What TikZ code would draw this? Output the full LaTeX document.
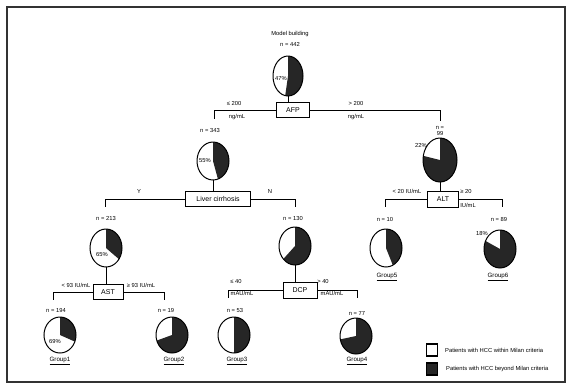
\documentclass[tikz,border=0pt]{standalone}
\usepackage{fontspec}
\setmainfont{Liberation Sans}
\usetikzlibrary{shapes.geometric}
\tikzset{
  lbl/.style={font=\fontsize{5.8}{6.2}\selectfont, inner sep=0pt, text=black},
  splitbox/.style={draw, line width=0.9pt, fill=white, minimum height=15pt, inner sep=0pt, font=\fontsize{7}{8}\selectfont},
  conn/.style={line width=0.9pt},
  grp/.style={font=\fontsize{6.2}{6.6}\selectfont, inner sep=0pt},
  legsq/.style={draw, line width=1.1pt, minimum width=11pt, minimum height=12pt, inner sep=0pt}
}
\newcommand\piechart[6]{%
  \node[ellipse, fill=white, minimum width={2*#4pt}, minimum height={2*#5pt}, inner sep=0pt, outer sep=0pt] (#1) at (#2,#3) {};
  \fill[black!85] (#1.center) -- ++({90+3.6*#6}:#4pt and #5pt) arc[start angle={90+3.6*#6}, end angle=450, x radius=#4pt, y radius=#5pt] -- cycle;
  \draw[line width=1pt] (#1.center) ellipse[x radius=#4pt, y radius=#5pt];
}
\begin{document}
\begin{tikzpicture}[x=1pt, y=-1pt]
\useasboundingbox (0,0) rectangle (570,384);
\draw[line width=1.5pt, black!80] (7,7) rectangle (565,382);

% root
\node[lbl] (title) at (290,34) {Model building};
\node[lbl] (n442) at (290,44) {n = 442};
\piechart{p0}{288}{76}{15}{20}{47}
\node[lbl] (l47) at (281,78) {47\%};
\node[splitbox, minimum width=33pt] (afp) at (293,110) {AFP};
\coordinate (aL) at (214,119);
\coordinate (aR) at (440,121);
\draw[conn] (p0.south) -- (p0.south |- afp.north);
\draw[conn] (afp.west) -| (aL);
\draw[conn] (afp.east) -| (aR);
\node[lbl] (c1) at (234,103) {≤ 200};
\node[lbl] (c1u) at (237,117) {ng/mL};
\node[lbl] (c2) at (356,103) {> 200};
\node[lbl] (c2u) at (356,117) {ng/mL};

% left: n=343
\node[lbl] (n343) at (210,130) {n = 343};
\piechart{p1}{213}{161}{16}{19}{55}
\node[lbl] (l55) at (205,161) {55\%};
\node[splitbox, minimum width=65pt] (lc) at (218,199) {Liver cirrhosis};
\draw[conn] (p1.south) -- (p1.south |- lc.north);
\coordinate (lL) at (105,207);
\coordinate (lR) at (295,207);
\draw[conn] (lc.west) -| (lL);
\draw[conn] (lc.east) -| (lR);
\node[lbl] (cy) at (139,191) {Y};
\node[lbl] (cn) at (270,191) {N};

% n=213
\node[lbl] (n213) at (106,218) {n = 213};
\piechart{p3}{106}{248}{16}{19}{65}
\node[lbl] (l65) at (102,254) {65\%};
\node[splitbox, minimum width=30pt] (ast) at (108,292) {AST};
\draw[conn] (p3.south) -- (p3.south |- ast.north);
\coordinate (sL) at (53,300);
\coordinate (sR) at (164,300);
\draw[conn] (ast.west) -| (sL);
\draw[conn] (ast.east) -| (sR);
\node[lbl] (c3) at (76,285) {< 93 IU/mL};
\node[lbl] (c4) at (141,285) {≥ 93 IU/mL};
\node[lbl] (n194) at (56,310) {n = 194};
\piechart{p5}{60}{335}{16}{18}{69}
\node[lbl] (l69) at (55,341) {69\%};
\node[lbl] (n19) at (166,310) {n = 19};
\piechart{p6}{172}{335}{16}{18}{30}
\node[grp] (g1) at (60,361) {\underline{Group1}};
\node[grp] (g2) at (174,361) {\underline{Group2}};

% n=130
\node[lbl] (n130) at (293,218) {n = 130};
\piechart{p4}{295}{246}{16}{19}{37}
\node[splitbox, minimum width=34pt, minimum height=16pt] (dcp) at (300,290) {DCP};
\draw[conn] (p4.south) -- (p4.south |- dcp.north);
\coordinate (dL) at (228,298);
\coordinate (dR) at (357,298);
\draw[conn] (dcp.west) -| (dL);
\draw[conn] (dcp.east) -| (dR);
\node[lbl] (c5) at (236,281) {≤ 40};
\node[lbl] (c5u) at (242,293) {mAU/mL};
\node[lbl] (c6) at (323,281) {> 40};
\node[lbl] (c6u) at (332,293) {mAU/mL};
\node[lbl] (n53) at (235,310) {n = 53};
\piechart{p7}{234}{335}{16}{18}{50}
\node[lbl] (n77) at (357,313) {n = 77};
\piechart{p8}{356}{336}{16}{18}{28}
\node[grp] (g3) at (237,361) {\underline{Group3}};
\node[grp] (g4) at (357,361) {\underline{Group4}};

% right: n=99
\node[lbl, align=center] (n99) at (440,131) {n =\\99};
\piechart{p2}{440}{160}{17}{22}{22}
\node[lbl] (l22) at (421,145) {22\%};
\node[splitbox, minimum width=31pt, minimum height=16pt] (alt) at (443,199) {ALT};
\draw[conn] (p2.south) -- (p2.south |- alt.north);
\coordinate (tL) at (385,207);
\coordinate (tR) at (502,207);
\draw[conn] (alt.west) -| (tL);
\draw[conn] (alt.east) -| (tR);
\node[lbl] (c7) at (407,191) {< 20 IU/mL};
\node[lbl] (c8) at (466,191) {≥ 20};
\node[lbl] (c8u) at (468,205) {IU/mL};
\node[lbl] (n10) at (385,219) {n = 10};
\piechart{p9}{386}{248}{16}{19}{57}
\node[lbl] (n89) at (499,219) {n = 89};
\piechart{p10}{500}{249}{16}{19}{18}
\node[lbl] (l18) at (482,233) {18\%};
\node[grp] (g5) at (387,277) {\underline{Group5}};
\node[grp] (g6) at (498,277) {\underline{Group6}};

% legend
\node[legsq, fill=white] (sq1) at (432,350) {};
\node[lbl, anchor=west] (t1) at (445,350) {Patients with HCC within Milan criteria};
\node[legsq, fill=black!85] (sq2) at (432,369) {};
\node[lbl, anchor=west] (t2) at (446,369) {Patients with HCC beyond Milan criteria};
\end{tikzpicture}
\end{document}
